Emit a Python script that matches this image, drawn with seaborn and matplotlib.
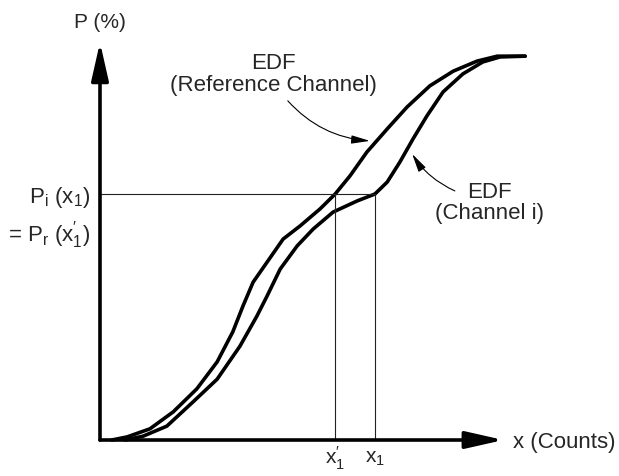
import numpy as np
import pandas as pd
import matplotlib
matplotlib.use("Agg")
import matplotlib.pyplot as plt
import seaborn as sns

# EDF of the reference channel (x in counts, P in %)
ref_x = [2.8, 6.4, 11.8, 17.3, 22.9, 27.7, 31.4, 33.8, 36.2, 39.5, 43.3, 47.3,
         52.0, 55.6, 59.1, 63.1, 67.9, 72.6, 78.0, 83.5, 89.1, 93.9, 100.5]
ref_p = [0.0, 0.8, 2.9, 7.3, 13.3, 20.3, 28.1, 34.8, 41.0, 46.2, 52.2, 55.6,
         60.0, 63.9, 68.6, 74.8, 80.8, 86.5, 92.0, 95.8, 98.4, 99.7, 99.7]

# EDF of channel i
chi_x = [5.9, 10.2, 15.8, 22.0, 27.7, 33.1, 37.1, 39.5, 42.6, 46.6, 50.4, 55.1,
         60.8, 65.0, 67.9, 70.9, 74.0, 77.3, 81.1, 85.8, 90.5, 94.6, 100.5]
chi_p = [0.0, 1.0, 3.6, 9.9, 15.8, 24.4, 32.2, 37.4, 44.4, 50.4, 54.8, 59.2,
         62.1, 63.9, 67.0, 72.2, 78.2, 84.2, 90.4, 95.1, 98.2, 99.5, 99.7]

# Matching level: P_i(x1) = P_r(x1')
p_level = 63.9
x1 = 65.0
x1_prime = 55.6

sns.set_style("white")
plt.rcParams["font.family"] = ["Liberation Sans", "DejaVu Sans"]
plt.rcParams["mathtext.fontset"] = "custom"
plt.rcParams["mathtext.rm"] = "Liberation Sans"
plt.rcParams["mathtext.it"] = "Liberation Sans:italic"
plt.rcParams["mathtext.bf"] = "Liberation Sans:bold"

fig = plt.figure(figsize=(6.19, 4.77), dpi=100)
ax = fig.add_axes([0, 0, 1, 1])
ax.set_xlim(-23.64, 122.70)
ax.set_ylim(-9.35, 114.55)
ax.axis("off")

curves = pd.concat([
    pd.DataFrame({"x": ref_x, "P": ref_p, "curve": "reference"}),
    pd.DataFrame({"x": chi_x, "P": chi_p, "curve": "channel i"}),
])
for name, grp in curves.groupby("curve"):
    sns.lineplot(data=grp, x="x", y="P", ax=ax, color="black", lw=2.6,
                 sort=False, estimator=None, solid_capstyle="round",
                 solid_joinstyle="round")
ax.set_xlabel("")
ax.set_ylabel("")

# Guide lines linking the two channels at equal probability
guide = dict(color="#222222", lw=0.8)
ax.plot([0, x1], [p_level, p_level], **guide)
ax.plot([x1_prime, x1_prime], [0, p_level], **guide)
ax.plot([x1, x1], [0, p_level], **guide)

# Coordinate axes with arrow heads
axis_arrow = dict(arrowstyle="-|>,head_length=1.15,head_width=0.26",
                  lw=2.6, color="black", mutation_scale=20,
                  shrinkA=0, shrinkB=0)
ax.annotate("", xy=(0, 103.3), xytext=(0, 0), arrowprops=axis_arrow)
ax.annotate("", xy=(95.4, 0), xytext=(0, 0), arrowprops=axis_arrow)

fs = 16
ax.text(0, 108.6, "P (%)", ha="center", va="center", fontsize=15)
ax.text(97.6, -0.3, "x (Counts)", ha="left", va="center", fontsize=fs)
ax.text(x1_prime, -4.6, r"x$^{\prime}_{1}$", ha="center", va="center",
        fontsize=15)
ax.text(x1, -4.6, r"x$_{1}$", ha="center", va="center", fontsize=15)
ax.text(-2.4, 63.3, r"P$_{\mathrm{i}}$ (x$_{1}$)", ha="right", va="center",
        fontsize=fs)
ax.text(-2.4, 53.5, r"= P$_{\mathrm{r}}$ (x$^{\prime}_{1}$)", ha="right",
        va="center", fontsize=fs)

# Curve labels with pointer arrows
ax.text(40.9, 95.1, "EDF\n(Reference Channel)", ha="center", va="center",
        fontsize=fs, linespacing=1.05)
ax.text(92.0, 61.8, "EDF\n(Channel i)", ha="center", va="center",
        fontsize=fs, linespacing=1.05)

pointer = dict(arrowstyle="-|>,head_length=0.75,head_width=0.17",
               lw=0.8, color="black", mutation_scale=15,
               shrinkA=0, shrinkB=0)
ax.annotate("", xy=(63.8, 77.7), xytext=(44.4, 88.1),
            arrowprops=dict(pointer, connectionstyle="arc3,rad=0.2"))
ax.annotate("", xy=(73.8, 74.3), xytext=(83.9, 64.7),
            arrowprops=dict(pointer, connectionstyle="arc3,rad=-0.15"))

fig.savefig("out.png", dpi=100)
